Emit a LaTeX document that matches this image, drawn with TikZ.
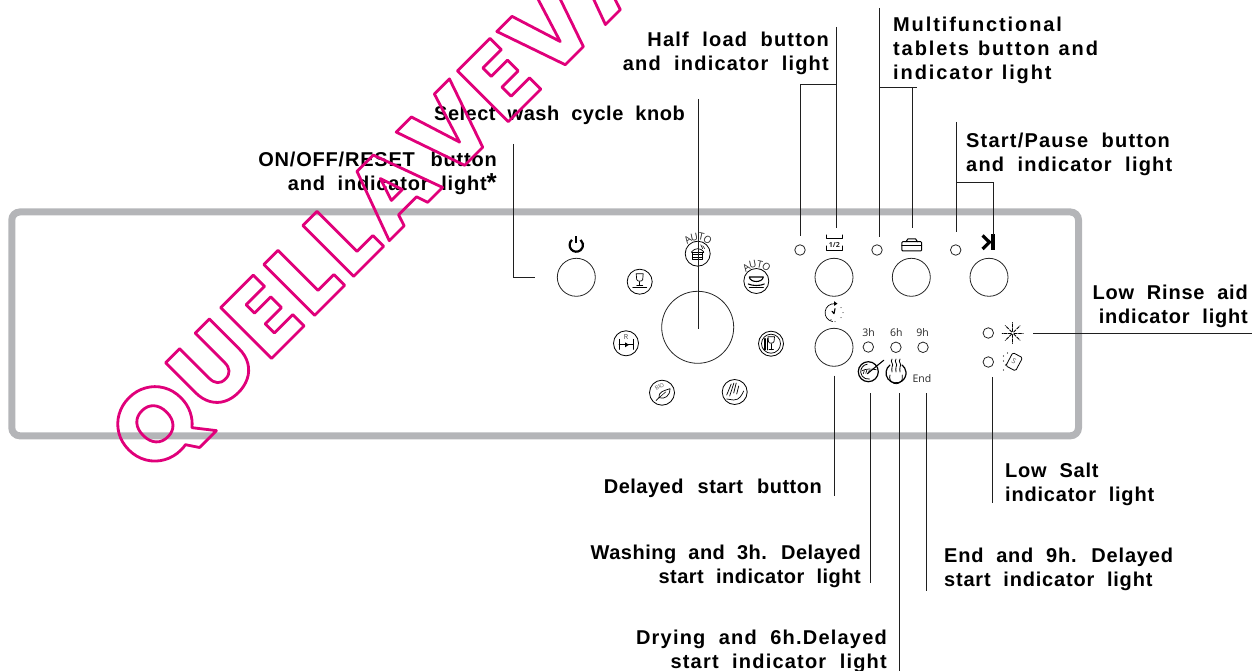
\documentclass[tikz,border=0pt]{standalone}
\usepackage{fontspec}
\setmainfont{Open Sans}
\newfontfamily\labf{Liberation Sans}[LetterSpace=6.0,WordSpace=2.0]
\newfontfamily\labm{Liberation Sans}[LetterSpace=9.5,WordSpace=1.2]
\newfontfamily\labn{Liberation Sans}[LetterSpace=2.5,WordSpace=2.0]
\newfontfamily\labg{Liberation Sans}[LetterSpace=4.0,WordSpace=2.0]
\newfontfamily\wmf{Poppins ExtraBold}[LetterSpace=5.0]
\definecolor{panelgrey}{HTML}{B4B5B8}
\newcommand{\fl}{\rule{0pt}{15pt}}
\tikzset{
  lab/.style={inner sep=0pt,font=\labf\bfseries\fontsize{20}{24}\selectfont},
  labR/.style={lab,anchor=north east,align=right},
  labL/.style={lab,anchor=north west,align=left},
  wide/.style={font=\labm\bfseries\fontsize{20}{24}\selectfont},
  narrow/.style={font=\labn\bfseries\fontsize{20}{24}\selectfont},
  mid/.style={font=\labg\bfseries\fontsize{20}{24}\selectfont},
  leader/.style={draw=black!88,line width=1pt},
  btn/.style={circle,draw=black!85,line width=.8pt,minimum size=38pt,inner sep=0pt},
  led/.style={circle,draw=black!85,line width=.8pt,minimum size=10.5pt,inner sep=0pt},
  icn/.style={circle,draw=black,line width=.8pt,minimum size=25pt,inner sep=0pt},
  gl/.style={draw=black,line width=.7pt,line join=round,line cap=round},
  tiny/.style={inner sep=0pt,text=black!85,font=\fontsize{10.5}{10.5}\selectfont},
}
\newcommand{\autoarc}[3]{%
  \foreach \ch/\a in {A/36,U/12,T/-12,O/-36}
    \node[tiny,rotate=\a,font=\fontsize{10}{10}\selectfont] at ({#1-#3*sin(\a)},{#2-#3*cos(\a)}) {\ch};}
\begin{document}
\begin{tikzpicture}[x=1pt,y=-1pt]
\useasboundingbox (0,0) rectangle (1259,671);
% panel
\draw[panelgrey,line width=7pt,rounded corners=8pt] (11.8,212) rectangle (1078.5,435.8);

% buttons and knob
\node[btn] (bpower) at (576.3,277.3) {};
\node[btn] (bhalf) at (834,277.3) {};
\node[btn] (bmulti) at (911.3,277.3) {};
\node[btn] (bstart) at (989,277.3) {};
\node[btn] (bdelay) at (834,347.3) {};
\node[btn,minimum size=72pt] (knob) at (697.7,327.3) {};
% LEDs
\node[led] (lhalf) at (800,250) {};
\node[led] (lmulti) at (877,250) {};
\node[led] (lstart) at (955.7,250) {};
\node[led] (l3) at (868.3,347) {};
\node[led] (l6) at (895.9,347.3) {};
\node[led] (l9) at (923,347.3) {};
\node[led] (lrinse) at (988.3,333) {};
\node[led] (lsalt) at (988.3,362) {};
\node[tiny] (t3) at (868.5,332.5) {3h};
\node[tiny] (t6) at (896.3,332.5) {6h};
\node[tiny] (t9) at (922.5,332.5) {9h};
\node[tiny] (tend) at (922,379) {End};

% programme icons
\node[icn] (ipot) at (697.7,253.7) {};
\node[icn] (iglass) at (639.7,281.7) {};
\node[icn] (iplate) at (756.3,281) {};
\node[icn] (irinse) at (626,343.3) {};
\node[icn] (icut) at (771,343.7) {};
\node[icn] (ibio) at (662,392.7) {};
\node[icn] (ispray) at (734.7,392) {};
\autoarc{697.7}{253.7}{17}
\autoarc{756.3}{281}{17}
% pot
\begin{scope}[shift={(697.7,253.7)}]
  \draw[gl,line width=.9pt] (-6,-1.5) -- (6,-1.5) (-5,1) -- (5,1) (-5,3.5) -- (5,3.5);
  \draw[gl] (-5,-1.5) -- (-5,6) -- (5,6) -- (5,-1.5);
  \draw[gl] (-6,-2) .. controls (-3,-6) and (3,-6) .. (6,-2);
  \draw[gl,line width=.5pt] (3,-9) -- (5,-5) (5,-8) -- (7,-5);
\end{scope}
% glass on plate
\begin{scope}[shift={(639.7,281.7)}]
  \draw[gl] (-3.5,-8) -- (3.5,-8) -- (3,-2) .. controls (2,0) and (-2,0) .. (-3,-2) -- cycle;
  \draw[gl] (0,0) -- (0,3) (-3,3.5) -- (3,3.5);
  \draw[gl] (-7,6) -- (7,6);
\end{scope}
% plate stack
\begin{scope}[shift={(756.3,281)}]
  \draw[gl,line width=1.1pt] (-7,-4) -- (7,-4) .. controls (6,2) and (-6,2) .. (-7,-4);
  \draw[gl,line width=1.1pt] (-8,3) .. controls (-4,5) and (4,5) .. (8,3);
  \draw[gl,line width=1.1pt] (-7,6.5) -- (7,6.5);
\end{scope}
% reverse / rinse
\begin{scope}[shift={(626,343.3)}]
  \draw[gl,line width=.9pt] (-7,-4) -- (-7,6) (7,-4) -- (7,6) (-7,1.5) -- (7,1.5);
  \fill (-1,-1) -- (3,1.5) -- (-1,4) -- cycle;
  \node[inner sep=0pt,font=\fontsize{7}{7}\selectfont,text=black!75] (irr) at (0,-6) {R};
\end{scope}
% cutlery and glass
\begin{scope}[shift={(771,343.7)}]
  \draw[gl] (0,0) circle (9.5);
  \draw[gl] (-3,-7) -- (3.5,-7) -- (3,-2) .. controls (2,0) and (-2,0) .. (-2.5,-2) -- cycle;
  \draw[gl] (.3,0) -- (.3,6) (-2,6) -- (2.5,6);
  \draw[gl,line width=1.3pt] (-6,-5) -- (-6,6) (-3.8,-5) -- (-3.8,6);
\end{scope}
% bio leaf
\begin{scope}[shift={(662,392.7)}]
  \draw[gl] (-6,8) -- (-3,5);
  \draw[gl] (-3,5) .. controls (-4,-1) and (2,-2) .. (8,-4) .. controls (8,3) and (3,7) .. (-3,5);
  \draw[gl,line width=.5pt] (-3,5) -- (4,-1);
  \node[inner sep=0pt,rotate=30,font=\fontsize{5.5}{5.5}\selectfont,text=black!70] (ibb) at (-2.5,-6) {BIO};
\end{scope}
% spray
\begin{scope}[shift={(734.7,392)}]
  \draw[gl] (-8,3) -- (-3.5,-8);
  \draw[gl] (-5,4) -- (-.8,-9);
  \draw[gl] (-1,1) -- (1.5,-9);
  \draw[gl] (2,2) -- (4,-6);
  \draw[gl] (-8,7) -- (-1,8) .. controls (5,8) and (7,3) .. (9,-1);
\end{scope}

% power symbol
\begin{scope}[shift={(576.3,245)}]
  \draw[line width=2.2pt,black] (-4.3,-5.13) arc[start angle=230,end angle=-50,radius=6.7];
  \draw[line width=2.2pt,black] (0,-8.5) -- (0,-1.5);
\end{scope}
% half icon
\draw[gl,line width=1pt] (826,235) -- (826,238.3) -- (842.7,238.3) -- (842.7,235);
\draw[gl,line width=1pt] (826,246) -- (826,250.8) -- (842.7,250.8) -- (842.7,246);
\node[tiny,font=\bfseries\fontsize{7}{7}\selectfont] (thalf) at (834.3,245.3) {1/2};
% briefcase
\draw[gl,line width=1pt,rounded corners=1pt] (901.8,241.7) rectangle (921.7,251);
\draw[gl,line width=1pt] (901.8,246) -- (921.7,246);
\draw[gl,line width=1pt] (906,241.7) -- (908,238.8) -- (915.5,238.8) -- (917.5,241.7);
% start/pause
\draw[black,line width=3.2pt,line join=miter] (982.5,235.5) -- (989.5,242.2) -- (982.5,249);
\fill[black] (991.2,234.3) rectangle (994.8,250);
% delay clock
\begin{scope}[shift={(834,312.7)}]
  \draw[gl] (1,-9) arc[start angle=-84,end angle=-260,radius=9];
  \fill (0,-11.5) -- (3.5,-9) -- (0,-6.8) -- cycle;
  \draw[gl,line width=1.1pt] (-2,-1.5) -- (0,1) -- (1,-4);
  \fill (7,-5) circle (.5) (9,0) circle (.5) (7,5) circle (.5) (1,9) circle (.5) (-3,7) circle (.5);
\end{scope}
% washing icon
\begin{scope}[shift={(868.3,371.7)}]
  \draw[gl,line width=1.2pt] (0,0) circle (10);
  \draw[gl,line width=.8pt] (-1,-7.5) arc[start angle=-97,end angle=-280,radius=7.5];
  \draw[gl,line width=1.1pt] (-1,2) -- (15.5,-11.5);
  \draw[gl,line width=.7pt] (-6,-1) .. controls (-3,-3) and (3,-3) .. (8,-2);
  \draw[gl,line width=.7pt] (-4,-1) -- (-5,2) (-1.5,-1.5) -- (-2.5,1.5) (1,-1.5) -- (0,1.5);
\end{scope}
% drying icon
\begin{scope}[shift={(896,373)}]
  \draw[gl,line width=1.2pt] (-6,-8) arc[start angle=-127,end angle=-413,radius=10];
  \draw[gl,line width=.8pt] (-6,2) arc[start angle=-160,end angle=-380,radius=6.5];
  \foreach \dx in {-4,0,4}
    \draw[gl,line width=.8pt] (\dx,-14) .. controls (\dx-2.5,-11) and (\dx+2.5,-9) .. (\dx,-6) .. controls (\dx-1.5,-4) and (\dx+1,-3) .. (\dx,-1);
\end{scope}
% rinse aid sun
\begin{scope}[shift={(1012.7,333)}]
  \foreach \a in {0,45,...,315}
    \draw[gl,line width=.9pt,dash pattern=on 3pt off 1.3pt] (\a:1.5) -- (\a:10.5);
\end{scope}
% salt
\begin{scope}[shift={(1013.5,362)}]
  \draw[gl,rotate=-28,rounded corners=1.5pt,line width=.8pt] (-5,-8) rectangle (6,7);
  \node[inner sep=0pt,rotate=-28,font=\fontsize{7}{7}\selectfont,text=black!70] (tsalt) at (.5,-.5) {S};
  \fill (-10,-6) circle (.55) (-10,-1) circle (.55) (-8,3) circle (.55) (-10,8) circle (.55) (-6,-9) circle (.55);
\end{scope}

% leaders
\coordinate (on1) at (513,144); \coordinate (on2) at (513,277.3); \coordinate (on3) at (535,277.3);
\draw[leader] (on1) -- (on2) -- (on3);
\coordinate (kn1) at (698,99); \coordinate (kn2) at (698,328.5);
\draw[leader] (kn1) -- (kn2);
\coordinate (ha1) at (836.3,27); \coordinate (ha2) at (836.3,228);
\coordinate (ha3) at (836.3,84.3); \coordinate (ha4) at (800,84.3); \coordinate (ha5) at (800,236);
\draw[leader] (ha1) -- (ha2);
\draw[leader] (ha3) -- (ha4) -- (ha5);
\coordinate (mu1) at (879.3,8); \coordinate (mu2) at (879.3,236.7);
\coordinate (mu3) at (879.3,88); \coordinate (mu4) at (917.3,88);
\coordinate (mu5) at (912.7,88); \coordinate (mu6) at (912.7,228);
\draw[leader] (mu1) -- (mu2);
\draw[leader] (mu3) -- (mu4);
\draw[leader] (mu5) -- (mu6);
\coordinate (st1) at (956.7,122); \coordinate (st2) at (956.7,232);
\coordinate (st3) at (956.7,182.7); \coordinate (st4) at (993.3,182.7); \coordinate (st5) at (993.3,235);
\draw[leader] (st1) -- (st2);
\draw[leader] (st3) -- (st4) -- (st5);
\coordinate (ri1) at (1033.3,333.7); \coordinate (ri2) at (1252,333.7);
\draw[leader] (ri1) -- (ri2);
\coordinate (de1) at (834,375.7); \coordinate (de2) at (834,495.5);
\draw[leader] (de1) -- (de2);
\coordinate (wa1) at (870,393); \coordinate (wa2) at (870,583);
\draw[leader] (wa1) -- (wa2);
\coordinate (dr1) at (899,393); \coordinate (dr2) at (899,671);
\draw[leader] (dr1) -- (dr2);
\coordinate (en1) at (926,393); \coordinate (en2) at (926,591);
\draw[leader] (en1) -- (en2);
\coordinate (sa1) at (992,377); \coordinate (sa2) at (992,503);
\draw[leader] (sa1) -- (sa2);

% labels
\node[labR] (Lhalf) at (829,31.7) {\fl Half load button\\and indicator light};
\node[labL,wide] (Lmulti) at (893,16) {\fl Multifunctional\\tablets button and\\indicator light};
\node[labR,narrow] (Lknob) at (685,105) {\fl Select wash cycle knob};
\node[labL] (Lstart) at (966,132) {\fl Start/Pause button\\and indicator light};
\node[labR,mid] (Lon) at (497,151) {\fl ON/OFF/RESET\hspace{3pt} button\\and indicator light\raisebox{-1pt}{\fontsize{26}{26}\selectfont *}};
\node[labR,mid] (Lrinse) at (1248,284) {\fl Low Rinse aid\\indicator light};
\node[labR,narrow] (Ldelay) at (822,478) {\fl Delayed\hspace{2pt} start\hspace{2pt} button};
\node[labL,mid] (Lsalt) at (1005,462) {\fl Low Salt\\indicator light};
\node[labR,narrow] (Lwash) at (861,544) {\fl Washing and 3h. Delayed\\start indicator light};
\node[labL,mid] (Lend) at (944,547) {\fl End and 9h. Delayed\\start indicator light};
\node[labR] (Ldry) at (887,629) {\fl Drying and 6h.Delayed\\start indicator light};

% watermark
\node[anchor=base west,inner sep=0pt,rotate=45,font=\wmf\fontsize{102}{102}\selectfont] (wm) at (152,478)
  {\special{pdf:code q 1 Tr 2.8 w 1 j 0.878 0 0.478 RG}QUELLAVEVA\special{pdf:code Q}};
\end{tikzpicture}
\end{document}
